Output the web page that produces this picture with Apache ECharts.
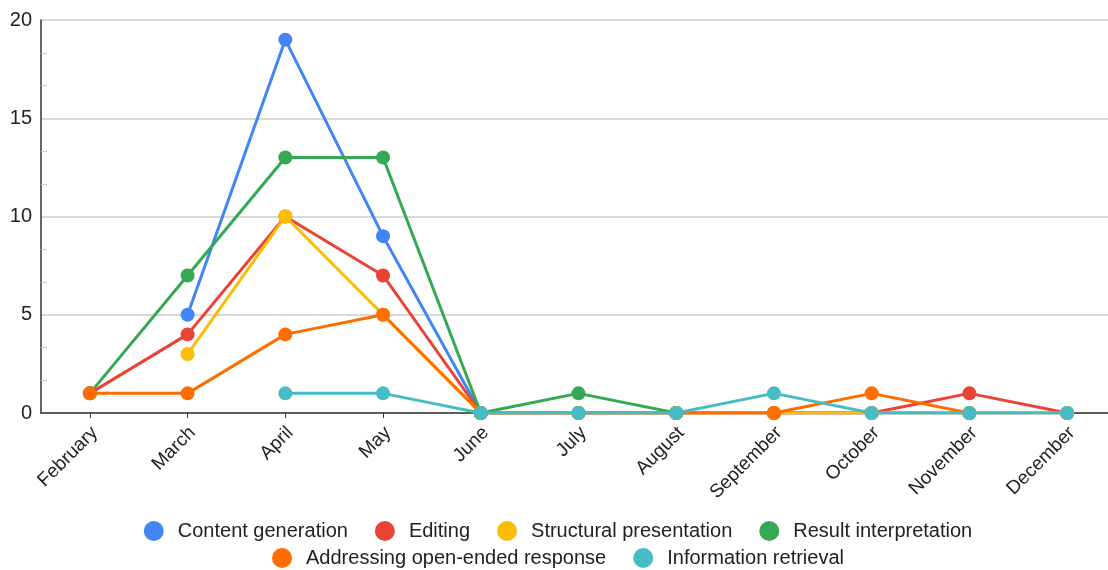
<!DOCTYPE html>
<html>
<head>
<meta charset="utf-8">
<title>Monthly counts by category</title>
<script src="https://cdn.jsdelivr.net/npm/echarts@6/dist/echarts.min.js"></script>
<style>
  html, body { margin: 0; padding: 0; background: #ffffff; overflow: hidden; }
  #wrap { width: 1108px; height: 570px; overflow: hidden; }
  /* plot runs slightly past the right edge of the page */
  #chart { width: 1116px; height: 570px; }
</style>
</head>
<body>
<div id="wrap"><div id="chart"></div></div>
<script>
// Months on the horizontal axis
const months = ['February', 'March', 'April', 'May', 'June', 'July', 'August',
                'September', 'October', 'November', 'December'];

// Monthly counts per category (null = no entry that month)
const contentGeneration   = [null, 5, 19, 9, 0, 0, 0, 0, 0, 0, 0];
const editing             = [1, 4, 10, 7, 0, 0, 0, 0, 0, 1, 0];
const structuralPresent   = [null, 3, 10, 5, 0, 0, 0, 0, 0, 0, 0];
const resultInterpret     = [1, 7, 13, 13, 0, 1, 0, null, null, null, null];
const openEndedResponse   = [1, 1, 4, 5, 0, 0, 0, 0, 1, 0, null];
const infoRetrieval       = [null, null, 1, 1, 0, 0, 0, 1, 0, 0, 0];

// Value axis ticks
const yTicks = [0, 5, 10, 15, 20];

const seriesDefs = [
  { name: 'Content generation', data: contentGeneration, color: '#4285F4' },
  { name: 'Editing', data: editing, color: '#EA4335' },
  { name: 'Structural presentation', data: structuralPresent, color: '#FBBC04' },
  { name: 'Result interpretation', data: resultInterpret, color: '#34A853' },
  { name: 'Addressing open-ended response', data: openEndedResponse, color: '#FF6D01' },
  { name: 'Information retrieval', data: infoRetrieval, color: '#46BDC6' }
];

const FONT = '"Liberation Sans", Arial, sans-serif';

const legendBase = {
  left: 'center',
  orient: 'horizontal',
  icon: 'circle',
  itemWidth: 38,
  itemHeight: 20,
  itemGap: 27,
  textStyle: { fontFamily: FONT, fontSize: 20, color: '#222222' }
};

const chart = echarts.init(document.getElementById('chart'), null, { renderer: 'canvas' });

chart.setOption({
  animation: false,
  backgroundColor: '#ffffff',
  grid: { left: 41, right: 0, top: 20, bottom: 157, containLabel: false },
  legend: [
    Object.assign({}, legendBase, { top: 516, data: seriesDefs.slice(0, 4).map(s => s.name) }),
    Object.assign({}, legendBase, { top: 543, data: seriesDefs.slice(4).map(s => s.name) })
  ],
  xAxis: {
    type: 'category',
    data: months,
    boundaryGap: true,
    axisLine: { show: true, lineStyle: { color: '#333333', width: 1.5 } },
    axisTick: { show: true, alignWithLabel: true, length: 5, lineStyle: { color: '#333333' } },
    axisLabel: {
      rotate: 45,
      margin: 12,
      verticalAlign: 'top',
      lineHeight: 14,
      interval: 0,
      fontFamily: FONT,
      fontSize: 19,
      color: '#222222'
    },
    splitLine: { show: false }
  },
  yAxis: {
    type: 'value',
    min: yTicks[0],
    max: yTicks[yTicks.length - 1],
    interval: yTicks[1] - yTicks[0],
    axisLine: { show: true, lineStyle: { color: '#333333', width: 1.5 } },
    axisTick: { show: false },
    minorTick: { show: true, splitNumber: 3, length: -6, lineStyle: { color: '#cccccc' } },
    axisLabel: {
      margin: 9,
      fontFamily: FONT,
      fontSize: 20,
      color: '#222222'
    },
    splitLine: { show: true, lineStyle: { color: '#cccccc', width: 1.5 } }
  },
  series: seriesDefs.map(s => ({
    name: s.name,
    type: 'line',
    data: s.data,
    color: s.color,
    symbol: 'circle',
    symbolSize: 14,
    showAllSymbol: true,
    connectNulls: false,
    lineStyle: { width: 3, color: s.color },
    itemStyle: { color: s.color },
    emphasis: { disabled: true }
  }))
});
</script>
</body>
</html>
